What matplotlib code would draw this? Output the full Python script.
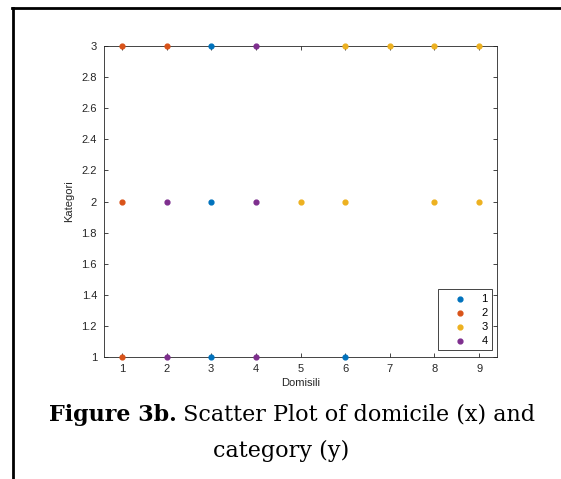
import matplotlib.pyplot as plt
from matplotlib.lines import Line2D

# groups 1..4, points (domisili, kategori)
g1_x = [3, 3, 3, 6]
g1_y = [3, 2, 1, 1]
g2_x = [1, 2, 1, 1]
g2_y = [3, 3, 2, 1]
g3_x = [6, 7, 8, 9, 5, 6, 8, 9]
g3_y = [3, 3, 3, 3, 2, 2, 2, 2]
g4_x = [4, 2, 4, 2, 4]
g4_y = [3, 2, 2, 1, 1]

groups = [(g1_x, g1_y, '1'), (g2_x, g2_y, '2'), (g3_x, g3_y, '3'), (g4_x, g4_y, '4')]
colors = ['#0072BD', '#D95319', '#EDB120', '#7E2F8E']

plt.rcParams['font.family'] = ['Liberation Sans', 'DejaVu Sans']

fig = plt.figure(figsize=(5.61, 4.79), dpi=100)
ax = fig.add_axes([104/561, 1 - 357/479, 393/561, 311/479])

for (x, y, lab), c in zip(groups, colors):
    ax.scatter(x, y, s=12, color=c, label=lab, zorder=3, clip_on=False)

ax.set_xlim(0.6, 9.4)
ax.set_ylim(1, 3)
ax.set_xticks(range(1, 10))
ax.set_yticks([1, 1.2, 1.4, 1.6, 1.8, 2, 2.2, 2.4, 2.6, 2.8, 3])
ax.set_yticklabels(['1', '1.2', '1.4', '1.6', '1.8', '2', '2.2', '2.4', '2.6', '2.8', '3'])
ax.tick_params(direction='in', top=True, right=True, length=3, width=0.6,
               colors='#262626', labelsize=8, labelcolor='#262626', pad=5)
for s in ax.spines.values():
    s.set_color('#262626')
    s.set_linewidth(0.6)
ax.set_xlabel('Domisili', fontsize=8, color='#262626', labelpad=3)
ax.set_ylabel('Kategori', fontsize=8, color='#262626', labelpad=5)

leg = ax.legend(loc='lower right', bbox_to_anchor=(1 - 5/393, 7/311),
                fontsize=8, fancybox=False, edgecolor='#262626', framealpha=1,
                handletextpad=0.3, handlelength=3.2, borderaxespad=0,
                borderpad=0.4, labelspacing=0.36, scatterpoints=1)
leg.get_frame().set_linewidth(0.6)

# document frame
fig.add_artist(Line2D([12.5/561, 12.5/561], [0, 1 - 7.5/479], color='black', lw=2))
fig.add_artist(Line2D([11.5/561, 1], [1 - 7.5/479, 1 - 7.5/479], color='black', lw=2))

# caption: bold part + regular part, set side by side
cap_font = 'DejaVu Serif'
cap_size = 16
t_bold = fig.text(0, 1 - 421/479, 'Figure 3b.', fontsize=cap_size, fontweight='bold',
                  family=cap_font, ha='left', va='baseline')
t_reg = fig.text(0, 1 - 421/479, ' Scatter Plot of domicile (x) and', fontsize=cap_size,
                 family=cap_font, ha='left', va='baseline')
fig.canvas.draw()
r = fig.canvas.get_renderer()
wb = t_bold.get_window_extent(r).width
wr = t_reg.get_window_extent(r).width
x0 = (292 - (wb + wr) / 2) / 561
t_bold.set_x(x0)
t_reg.set_x(x0 + wb / 561)
fig.text(281/561, 1 - 457/479, 'category (y)', fontsize=cap_size,
         family=cap_font, ha='center', va='baseline')

fig.savefig('out.png', dpi=100)
